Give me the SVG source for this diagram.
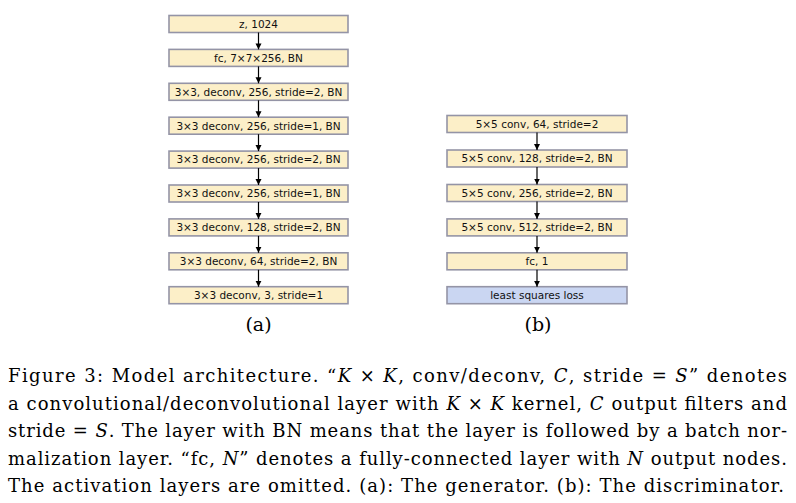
<svg xmlns="http://www.w3.org/2000/svg" width="796" height="503" viewBox="0 0 796 503">
<style>
.box{fill:#FCEFC8;stroke:#9494A6;stroke-width:1.6}
.loss{fill:#CAD6F2;stroke:#9494A6;stroke-width:1.6}
.lbl{font-family:"DejaVu Sans",Verdana,sans-serif;font-size:10.5px;fill:#111;text-anchor:middle}
.cap{font-family:"DejaVu Serif","Liberation Serif",serif;font-size:18px;fill:#000}
.sub{font-family:"DejaVu Serif","Liberation Serif",serif;font-size:19px;fill:#000;text-anchor:middle}
.arr{stroke:#000;stroke-width:1.2;fill:none;marker-end:url(#ah)}
.it{font-style:italic}
</style>
<defs>
<marker id="ah" viewBox="0 0 8 8" refX="8" refY="4" markerWidth="6" markerHeight="7" markerUnits="userSpaceOnUse" orient="auto">
<path d="M0,0 L8,4 L0,8 z" fill="#000"/>
</marker>
</defs>
<rect width="796" height="503" fill="#fff"/>
<g id="gen">
<g id="g1"><rect class="box" x="169" y="15.5" width="179" height="17"/><text class="lbl" x="258.5" y="27.8">z, 1024</text></g>
<g id="g2"><rect class="box" x="169" y="49.4" width="179" height="17"/><text class="lbl" x="258.5" y="61.7">fc, 7×7×256, BN</text></g>
<g id="g3"><rect class="box" x="169" y="83.3" width="179" height="17"/><text class="lbl" x="258.5" y="95.6">3×3, deconv, 256, stride=2, BN</text></g>
<g id="g4"><rect class="box" x="169" y="117.2" width="179" height="17"/><text class="lbl" x="258.5" y="129.5">3×3 deconv, 256, stride=1, BN</text></g>
<g id="g5"><rect class="box" x="169" y="151.1" width="179" height="17"/><text class="lbl" x="258.5" y="163.4">3×3 deconv, 256, stride=2, BN</text></g>
<g id="g6"><rect class="box" x="169" y="185" width="179" height="17"/><text class="lbl" x="258.5" y="197.3">3×3 deconv, 256, stride=1, BN</text></g>
<g id="g7"><rect class="box" x="169" y="218.9" width="179" height="17"/><text class="lbl" x="258.5" y="231.2">3×3 deconv, 128, stride=2, BN</text></g>
<g id="g8"><rect class="box" x="169" y="252.8" width="179" height="17"/><text class="lbl" x="258.5" y="265.1">3×3 deconv, 64, stride=2, BN</text></g>
<g id="g9"><rect class="box" x="169" y="286.7" width="179" height="17"/><text class="lbl" x="258.5" y="299">3×3 deconv, 3, stride=1</text></g>
</g>
<g id="dis">
<g id="d1"><rect class="box" x="447" y="115.5" width="180" height="17"/><text class="lbl" x="537" y="127.8">5×5 conv, 64, stride=2</text></g>
<g id="d2"><rect class="box" x="447" y="150" width="180" height="17"/><text class="lbl" x="537" y="162.3">5×5 conv, 128, stride=2, BN</text></g>
<g id="d3"><rect class="box" x="447" y="184.5" width="180" height="17"/><text class="lbl" x="537" y="196.8">5×5 conv, 256, stride=2, BN</text></g>
<g id="d4"><rect class="box" x="447" y="218.9" width="180" height="17"/><text class="lbl" x="537" y="231.2">5×5 conv, 512, stride=2, BN</text></g>
<g id="d5"><rect class="box" x="447" y="252.8" width="180" height="17"/><text class="lbl" x="537" y="265.1">fc, 1</text></g>
<g id="d6"><rect class="loss" x="447" y="286.7" width="180" height="17"/><text class="lbl" x="537" y="299">least squares loss</text></g>
</g>
<g id="connectors">
<line class="arr" x1="258.5" y1="32.5" x2="258.5" y2="49.4"/>
<line class="arr" x1="258.5" y1="66.4" x2="258.5" y2="83.3"/>
<line class="arr" x1="258.5" y1="100.3" x2="258.5" y2="117.2"/>
<line class="arr" x1="258.5" y1="134.2" x2="258.5" y2="151.1"/>
<line class="arr" x1="258.5" y1="168.1" x2="258.5" y2="185"/>
<line class="arr" x1="258.5" y1="202" x2="258.5" y2="218.9"/>
<line class="arr" x1="258.5" y1="235.9" x2="258.5" y2="252.8"/>
<line class="arr" x1="258.5" y1="269.8" x2="258.5" y2="286.7"/>
<line class="arr" x1="537" y1="132.5" x2="537" y2="150"/>
<line class="arr" x1="537" y1="167" x2="537" y2="184.5"/>
<line class="arr" x1="537" y1="201.5" x2="537" y2="218.9"/>
<line class="arr" x1="537" y1="235.9" x2="537" y2="252.8"/>
<line class="arr" x1="537" y1="269.8" x2="537" y2="286.7"/>
</g>
<text class="sub" x="258.5" y="331">(a)</text>
<text class="sub" x="538" y="331">(b)</text>
<g id="caption">
<text class="cap" x="8" y="382" textLength="779" lengthAdjust="spacing">Figure 3: Model architecture. “<tspan class="it">K</tspan> × <tspan class="it">K</tspan>, conv/deconv, <tspan class="it">C</tspan>, stride = <tspan class="it">S</tspan>” denotes</text>
<text class="cap" x="8" y="409.5" textLength="779" lengthAdjust="spacing">a convolutional/deconvolutional layer with <tspan class="it">K</tspan> × <tspan class="it">K</tspan> kernel, <tspan class="it">C</tspan> output filters and</text>
<text class="cap" x="8" y="437" textLength="779" lengthAdjust="spacing">stride = <tspan class="it">S</tspan>. The layer with BN means that the layer is followed by a batch nor-</text>
<text class="cap" x="8" y="464.5" textLength="779" lengthAdjust="spacing">malization layer. “fc, <tspan class="it">N</tspan>” denotes a fully-connected layer with <tspan class="it">N</tspan> output nodes.</text>
<text class="cap" x="8" y="492" textLength="776" lengthAdjust="spacing">The activation layers are omitted. (a): The generator. (b): The discriminator.</text>
</g>
</svg>
